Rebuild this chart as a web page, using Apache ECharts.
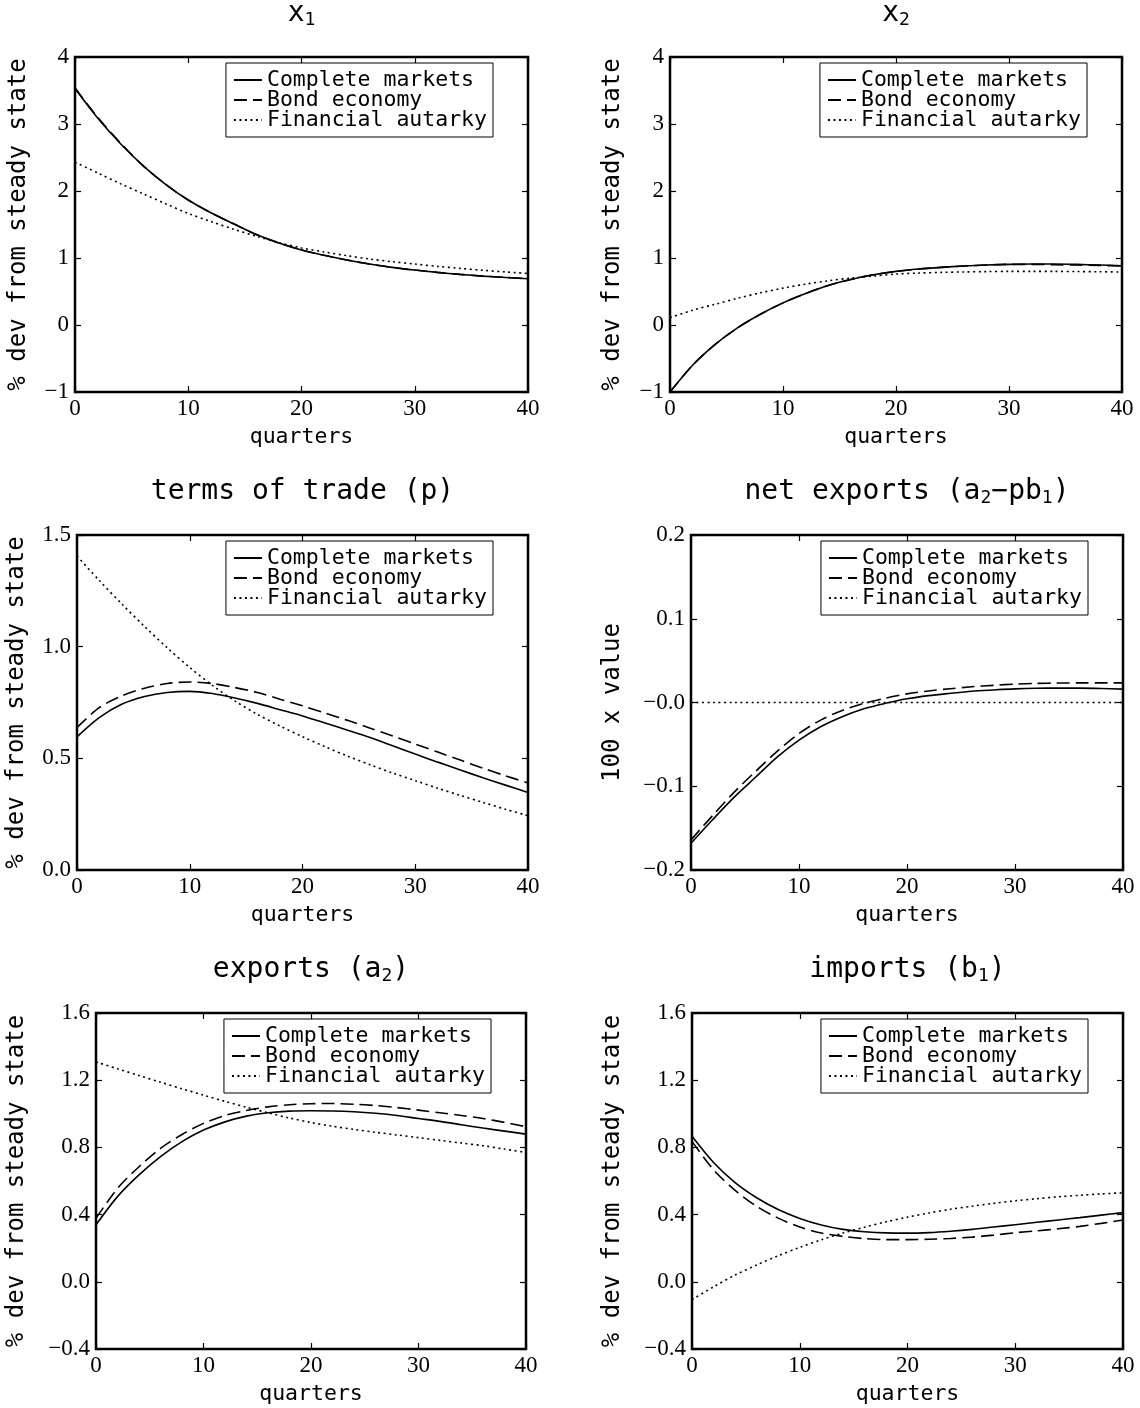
<!DOCTYPE html>
<html>
<head>
<meta charset="utf-8">
<script src="https://cdn.jsdelivr.net/npm/echarts@6/dist/echarts.min.js"></script>
<style>
html,body{margin:0;padding:0;background:#fff;}
#c{width:1140px;height:1408px;}
</style>
</head>
<body>
<div id="c"></div>
<script>
// ---- data (every 2 quarters) ----
const quarters = [0, 2, 4, 6, 8, 10, 12, 14, 16, 18, 20, 22, 24, 26, 28, 30, 32, 34, 36, 38, 40];
const seriesNames = ['Complete markets', 'Bond economy', 'Financial autarky'];

const x1Complete = [3.53, 3.09, 2.71, 2.38, 2.10, 1.865, 1.675, 1.51, 1.35, 1.225, 1.12, 1.04, 0.97, 0.91, 0.86, 0.82, 0.785, 0.755, 0.73, 0.71, 0.69];
const x1Bond     = [3.54, 3.10, 2.72, 2.38, 2.10, 1.865, 1.675, 1.51, 1.35, 1.225, 1.12, 1.04, 0.97, 0.91, 0.86, 0.82, 0.785, 0.755, 0.73, 0.71, 0.69];
const x1Autarky  = [2.43, 2.27, 2.11, 1.96, 1.81, 1.665, 1.545, 1.43, 1.325, 1.23, 1.15, 1.09, 1.035, 0.985, 0.945, 0.91, 0.875, 0.845, 0.817, 0.792, 0.77];

const x2Complete = [-1.00, -0.60, -0.29, -0.04, 0.16, 0.33, 0.47, 0.59, 0.68, 0.75, 0.80, 0.835, 0.86, 0.88, 0.895, 0.905, 0.91, 0.91, 0.905, 0.895, 0.885];
const x2Bond     = [-1.00, -0.60, -0.29, -0.04, 0.16, 0.33, 0.47, 0.59, 0.68, 0.75, 0.80, 0.835, 0.86, 0.88, 0.895, 0.905, 0.905, 0.90, 0.895, 0.89, 0.88];
const x2Autarky  = [0.11, 0.22, 0.31, 0.40, 0.48, 0.55, 0.61, 0.66, 0.70, 0.73, 0.76, 0.775, 0.785, 0.792, 0.797, 0.80, 0.80, 0.80, 0.798, 0.795, 0.79];

const totComplete = [0.596, 0.683, 0.743, 0.777, 0.795, 0.800, 0.790, 0.770, 0.746, 0.718, 0.690, 0.658, 0.626, 0.593, 0.556, 0.519, 0.483, 0.448, 0.413, 0.380, 0.347];
const totBond     = [0.638, 0.728, 0.780, 0.814, 0.835, 0.842, 0.835, 0.817, 0.795, 0.765, 0.735, 0.703, 0.670, 0.635, 0.600, 0.564, 0.528, 0.492, 0.456, 0.422, 0.390];
const totAutarky  = [1.406, 1.295, 1.190, 1.090, 0.995, 0.907, 0.827, 0.757, 0.697, 0.645, 0.597, 0.552, 0.510, 0.471, 0.434, 0.400, 0.366, 0.334, 0.303, 0.272, 0.243];

const nxComplete = [-0.168, -0.140, -0.113, -0.089, -0.065, -0.045, -0.029, -0.017, -0.0075, -0.001, 0.0044, 0.0082, 0.011, 0.0135, 0.015, 0.0163, 0.017, 0.0172, 0.0172, 0.0168, 0.016];
const nxBond     = [-0.164, -0.135, -0.107, -0.082, -0.058, -0.037, -0.021, -0.0095, -0.001, 0.005, 0.0103, 0.0138, 0.0165, 0.0188, 0.0205, 0.022, 0.0228, 0.0232, 0.0234, 0.0234, 0.0234];
const nxAutarky  = [0, 0, 0, 0, 0, 0, 0, 0, 0, 0, 0, 0, 0, 0, 0, 0, 0, 0, 0, 0, 0];

const exComplete = [0.339, 0.507, 0.636, 0.745, 0.834, 0.903, 0.952, 0.986, 1.006, 1.016, 1.018, 1.017, 1.012, 1.003, 0.990, 0.972, 0.955, 0.935, 0.915, 0.897, 0.879];
const exBond     = [0.378, 0.556, 0.685, 0.794, 0.877, 0.943, 0.990, 1.020, 1.041, 1.054, 1.060, 1.061, 1.057, 1.049, 1.037, 1.022, 1.006, 0.990, 0.972, 0.949, 0.923];
const exAutarky  = [1.309, 1.268, 1.228, 1.188, 1.149, 1.111, 1.074, 1.039, 1.006, 0.975, 0.948, 0.926, 0.907, 0.890, 0.874, 0.858, 0.842, 0.826, 0.810, 0.790, 0.770];

const imComplete = [0.866, 0.710, 0.590, 0.500, 0.430, 0.377, 0.338, 0.312, 0.298, 0.291, 0.290, 0.293, 0.301, 0.312, 0.326, 0.340, 0.354, 0.368, 0.382, 0.397, 0.412];
const imBond     = [0.836, 0.667, 0.544, 0.449, 0.379, 0.326, 0.290, 0.270, 0.257, 0.251, 0.251, 0.253, 0.258, 0.266, 0.278, 0.292, 0.303, 0.316, 0.330, 0.348, 0.368];
const imAutarky  = [-0.106, -0.030, 0.040, 0.100, 0.155, 0.205, 0.250, 0.290, 0.325, 0.357, 0.385, 0.410, 0.432, 0.450, 0.467, 0.482, 0.495, 0.506, 0.515, 0.523, 0.530];

// ---- panel definitions ----
const MONO = "'DejaVu Sans Mono', 'Liberation Mono', monospace";
const SERIF = "'Liberation Serif', 'DejaVu Serif', serif";

const panels = [
  { title: '{m|x}{s|1}', grid: {left: 75, top: 57, width: 453, height: 335},
    y: {min: -1, max: 4, interval: 1, dec: 0}, yName: '% dev from steady state', nameGap: 44,
    data: [x1Complete, x1Bond, x1Autarky] },
  { title: '{m|x}{s|2}', grid: {left: 670, top: 57, width: 452, height: 335},
    y: {min: -1, max: 4, interval: 1, dec: 0}, yName: '% dev from steady state', nameGap: 45,
    data: [x2Complete, x2Bond, x2Autarky] },
  { title: '{m|terms of trade (p)}', grid: {left: 77, top: 535, width: 451, height: 335},
    y: {min: 0, max: 1.5, interval: 0.5, dec: 1}, yName: '% dev from steady state', nameGap: 48,
    data: [totComplete, totBond, totAutarky] },
  { title: '{m|net exports (a}{s|2}{m|\u2212pb}{s|1}{m|)}', grid: {left: 691, top: 535, width: 432, height: 335},
    y: {min: -0.2, max: 0.2, interval: 0.1, dec: 1, negZero: true}, yName: '100 x value', nameGap: 66,
    data: [nxComplete, nxBond, nxAutarky] },
  { title: '{m|exports (a}{s|2}{m|)}', grid: {left: 96, top: 1013, width: 430, height: 336},
    y: {min: -0.4, max: 1.6, interval: 0.4, dec: 1}, yName: '% dev from steady state', nameGap: 67,
    data: [exComplete, exBond, exAutarky] },
  { title: '{m|imports (b}{s|1}{m|)}', grid: {left: 692, top: 1013, width: 431, height: 336},
    y: {min: -0.4, max: 1.6, interval: 0.4, dec: 1}, yName: '% dev from steady state', nameGap: 67,
    data: [imComplete, imBond, imAutarky] }
];

const lineTypes = ['solid', [13, 6], [2, 3.5]];

function fmtY(p) {
  return function (v) {
    if (Math.abs(v) < 1e-9) return p.negZero ? '\u22120.0' : (p.dec ? '0.0' : '0');
    const s = Math.abs(v).toFixed(p.dec);
    return (v < 0 ? '\u2212' : '') + s;
  };
}

const option = {
  animation: false,
  backgroundColor: '#fff',
  title: [], grid: [], xAxis: [], yAxis: [], legend: [], series: []
};

panels.forEach((p, i) => {
  const g = p.grid;
  option.grid.push({
    left: g.left, top: g.top, width: g.width, height: g.height,
    show: true, borderColor: '#000', borderWidth: 2.5, backgroundColor: 'transparent',
    containLabel: false
  });
  option.title.push({
    text: p.title,
    left: g.left + g.width / 2,
    top: g.top - 58,
    textAlign: 'center',
    padding: 0,
    textStyle: {
      fontWeight: 'normal',
      rich: {
        m: {fontFamily: MONO, fontSize: 28, fontWeight: 'normal', lineHeight: 30, color: '#000', verticalAlign: 'middle'},
        s: {fontFamily: MONO, fontSize: 18, fontWeight: 'normal', lineHeight: 14, color: '#000', verticalAlign: 'bottom'}
      }
    }
  });
  const tick = {show: true, inside: true, length: 6, lineStyle: {color: '#000', width: 1.2}};
  option.xAxis.push({
    type: 'value', gridIndex: i, min: 0, max: 40, interval: 10, position: 'bottom',
    axisLine: {show: false, onZero: false}, splitLine: {show: false}, axisTick: tick,
    axisLabel: {show: true, color: '#000', fontFamily: SERIF, fontSize: 23, margin: 5, lineHeight: 23},
    name: 'quarters', nameLocation: 'middle', nameGap: 34,
    nameTextStyle: {color: '#000', fontFamily: MONO, fontSize: 21.5, lineHeight: 22}
  });
  option.xAxis.push({
    type: 'value', gridIndex: i, min: 0, max: 40, interval: 10, position: 'top',
    axisLine: {show: false, onZero: false}, splitLine: {show: false}, axisTick: tick, axisLabel: {show: false}
  });
  option.yAxis.push({
    type: 'value', gridIndex: i, min: p.y.min, max: p.y.max, interval: p.y.interval, position: 'left',
    axisLine: {show: false, onZero: false}, splitLine: {show: false}, axisTick: tick,
    axisLabel: {show: true, color: '#000', fontFamily: SERIF, fontSize: 23, margin: 6, formatter: fmtY(p.y)},
    name: p.yName, nameLocation: 'middle', nameGap: p.nameGap,
    nameTextStyle: {color: '#000', fontFamily: MONO, fontSize: 24, lineHeight: 24}
  });
  option.yAxis.push({
    type: 'value', gridIndex: i, min: p.y.min, max: p.y.max, interval: p.y.interval, position: 'right',
    axisLine: {show: false, onZero: false}, splitLine: {show: false}, axisTick: tick, axisLabel: {show: false}
  });
  option.legend.push({
    data: seriesNames,
    orient: 'vertical',
    right: 1140 - (g.left + g.width - 35),
    top: g.top + 6,
    align: 'left',
    itemWidth: 28, itemHeight: 14, itemGap: -2,
    padding: [6, 6, 6, 7],
    borderColor: '#000', borderWidth: 1, backgroundColor: '#fff',
    selectedMode: false,
    itemStyle: {color: 'rgba(0,0,0,0)', borderColor: 'rgba(0,0,0,0)', borderWidth: 0},
    textStyle: {color: '#000', fontFamily: MONO, fontSize: 21.5, lineHeight: 20}
  });
  p.data.forEach((vals, k) => {
    option.series.push({
      type: 'line', name: seriesNames[k],
      xAxisIndex: 2 * i, yAxisIndex: 2 * i,
      data: quarters.map((t, j) => [t, vals[j]]),
      showSymbol: false, symbol: 'none',
      smooth: 0.3,
      lineStyle: {color: '#000', width: 1.6, type: lineTypes[k]},
      itemStyle: {color: '#000'},
      z: 3
    });
  });
});

const chart = echarts.init(document.getElementById('c'), null, {renderer: 'canvas'});
chart.setOption(option);
</script>
</body>
</html>
